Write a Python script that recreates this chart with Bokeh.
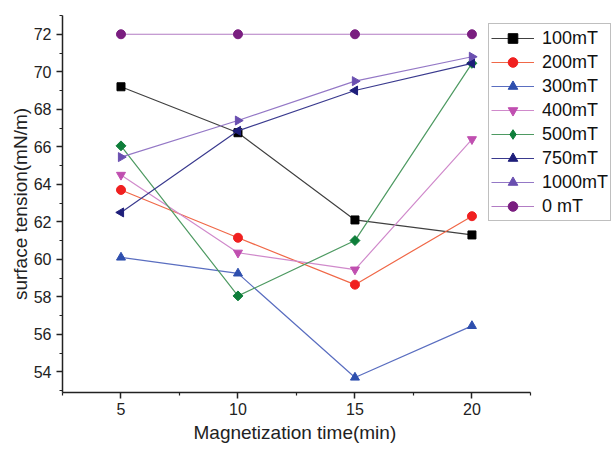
from bokeh.plotting import figure
from bokeh.models import Legend, FixedTicker, Range1d, ColumnDataSource, Title
from bokeh.embed import file_html
from bokeh.resources import INLINE
import math

times = [5, 10, 15, 20]
labels = ["100mT", "200mT", "300mT", "400mT", "500mT", "750mT", "1000mT", "0 mT"]
v100 = [69.2, 66.75, 62.1, 61.3]
v200 = [63.7, 61.15, 58.65, 62.3]
v300 = [60.1, 59.25, 53.7, 56.45]
v400 = [64.5, 60.35, 59.45, 66.4]
v500 = [66.05, 58.05, 61.0, 70.45]
v750 = [62.5, 66.85, 69.0, 70.45]
v1000 = [65.45, 67.4, 69.5, 70.8]
v0 = [72.0, 72.0, 72.0, 72.0]
series = [v100, v200, v300, v400, v500, v750, v1000, v0]
x_major_ticks = [5, 10, 15, 20]
x_minor_ticks = [2.5, 7.5, 12.5, 17.5, 22.5]
y_major_ticks = [54, 56, 58, 60, 62, 64, 66, 68, 70, 72]
y_minor_ticks = [53, 55, 57, 59, 61, 63, 65, 67, 69, 71, 73]

# plot marker, its rotation, and the marker shown in the legend
markers = ["square", "circle", "triangle", "inverted_triangle", "square", "triangle", "triangle", "circle"]
angles = [0, 0, 0, 0, math.pi / 4, math.pi / 2, -math.pi / 2, 0]
legend_markers = ["square", "circle", "triangle", "inverted_triangle", "diamond", "triangle", "triangle", "circle"]
sizes = [8, 9, 9, 9, 7, 9, 9, 9]
mcolors = ["#000000", "#F02020", "#2E4FAE", "#C04FB0", "#0E7E3A", "#1E1E7A", "#6A4FB0", "#7A1E80"]
lcolors = ["#404040", "#F06848", "#5A6EC0", "#D08ACB", "#4E9A62", "#3A3A8E", "#9478C6", "#B27CC4"]

font = "Liberation Sans"

p = figure(width=613, height=450, output_backend="svg", toolbar_location=None,
           x_range=Range1d(2.5, 26.05), y_range=Range1d(52.9, 73.0),
           min_border_left=62, min_border_right=0, min_border_top=15, min_border_bottom=58)
p.outline_line_color = None
p.xgrid.grid_line_color = None
p.ygrid.grid_line_color = None
p.background_fill_color = "white"
p.border_fill_color = "white"

p.xaxis.ticker = FixedTicker(ticks=x_major_ticks, minor_ticks=x_minor_ticks)
p.xaxis.bounds = (2.5, 22.5)
p.yaxis.ticker = FixedTicker(ticks=y_major_ticks, minor_ticks=y_minor_ticks)
for ax in (p.xaxis[0], p.yaxis[0]):
    ax.axis_line_width = 1.5
    ax.axis_line_color = "#222222"
    ax.major_tick_line_color = "#222222"
    ax.minor_tick_line_color = "#222222"
    ax.major_tick_line_width = 1.5
    ax.minor_tick_line_width = 1.2
    ax.major_tick_in = 0
    ax.major_tick_out = 6
    ax.minor_tick_in = 0
    ax.minor_tick_out = 3
    ax.major_label_text_font = font
    ax.major_label_text_font_size = "16px"
    ax.major_label_text_color = "#222222"
    ax.axis_label_text_font = font
    ax.axis_label_text_font_size = "19px"
    ax.axis_label_text_font_style = "normal"
    ax.axis_label_text_color = "#222222"
p.yaxis.axis_label = "surface tension(mN/m)"
p.xaxis.major_label_standoff = 4
p.yaxis.major_label_standoff = 5
p.yaxis.axis_label_standoff = 0

xtitle = Title(text="Magnetization time(min)", align="left", offset=131,
               vertical_align="top", text_font=font, text_font_size="19px",
               text_font_style="normal", text_color="#222222", standoff=8)
p.add_layout(xtitle, "below")

items = []
for i, vals in enumerate(series):
    src = ColumnDataSource(dict(x=times, y=vals, a=[angles[i]] * len(times)))
    r1 = p.line("x", "y", source=src, line_color=lcolors[i], line_width=1.2)
    r2 = p.scatter("x", "y", source=src, marker=markers[i], size=sizes[i], angle="a",
                   fill_color=mcolors[i], line_color=mcolors[i], line_width=1)
    if legend_markers[i] != markers[i]:
        # legend-only marker: a single undefined point that is never drawn on the plot
        nan_src = ColumnDataSource(dict(x=[float("nan")], y=[float("nan")]))
        r3 = p.scatter("x", "y", source=nan_src, marker=legend_markers[i], size=10,
                       fill_color=mcolors[i], line_color=mcolors[i], line_width=1)
        items.append((labels[i], [r1, r3]))
    else:
        items.append((labels[i], [r1, r2]))

legend = Legend(items=items, location=(426, 171))
legend.label_text_font = font
legend.label_text_font_size = "18px"
legend.label_text_color = "#111111"
legend.glyph_width = 43
legend.glyph_height = 24
legend.label_height = 24
legend.label_standoff = 8
legend.spacing = 0
legend.padding = 2
legend.margin = 0
legend.border_line_color = "#808080"
legend.border_line_width = 1.5
legend.background_fill_color = "white"
legend.background_fill_alpha = 1
p.add_layout(legend, "center")

open("out.html", "w").write(file_html(p, INLINE))
